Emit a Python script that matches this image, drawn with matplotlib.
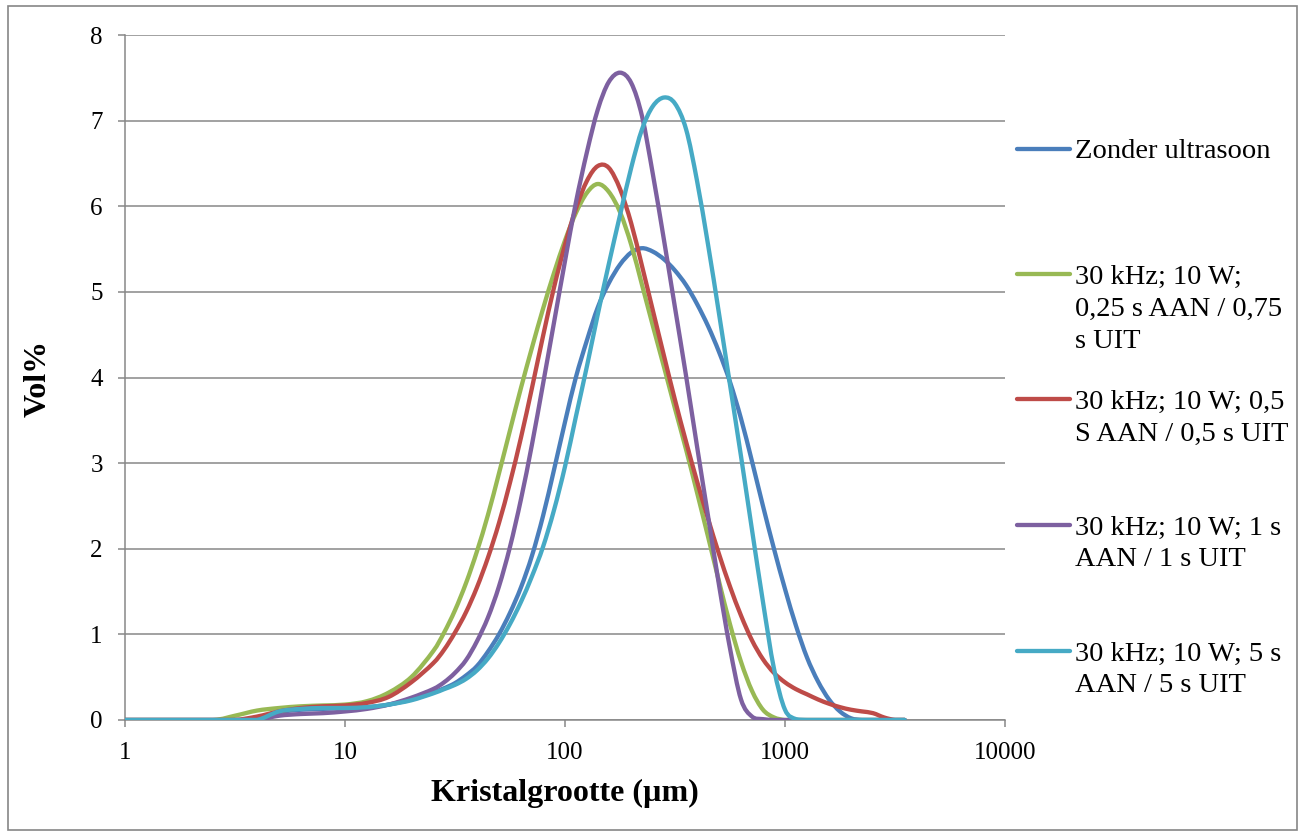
import numpy as np
import matplotlib
matplotlib.use("Agg")
import matplotlib.pyplot as plt
from matplotlib.lines import Line2D
from matplotlib.patches import Rectangle, PathPatch
from matplotlib.path import Path
from matplotlib.ticker import FixedLocator, NullLocator

plt.rcParams['font.family'] = ['Liberation Serif', 'DejaVu Serif']

# crystal size (um), log spaced
sizes = [1, 1.58, 2.51, 3.16, 3.98, 5.01, 6.31, 7.94, 10, 12.6, 15.8, 20.0,
         25.1, 28.2, 31.6, 35.5, 39.8, 44.7, 50.1, 56.2, 63.1, 70.8, 79.4, 89.1,
         100, 112, 126, 141, 158, 178, 200, 224, 251, 282, 316, 355, 398, 447,
         501, 562, 631, 708, 794, 891, 1000, 1122, 1259, 1413, 1585, 1778, 1995,
         2239, 2512, 2818, 3162, 3500]

zonder = [0, 0, 0, 0, 0, 0.09, 0.12, 0.13, 0.14, 0.15, 0.18, 0.24,
          0.32, 0.37, 0.43, 0.52, 0.63, 0.8, 1.0, 1.25, 1.55, 1.92, 2.38, 2.92,
          3.48, 4.0, 4.44, 4.82, 5.1, 5.32, 5.46, 5.51, 5.47, 5.38, 5.25, 5.08, 4.86, 4.6,
          4.3, 3.95, 3.52, 3.02, 2.5, 2.0, 1.53, 1.1, 0.73, 0.45, 0.24, 0.1, 0.02,
          0, 0, 0, 0, 0]

aan025 = [0, 0, 0, 0.05, 0.11, 0.14, 0.16, 0.17, 0.18, 0.22, 0.32, 0.5,
          0.8, 1.02, 1.28, 1.6, 1.97, 2.4, 2.88, 3.38, 3.88, 4.35, 4.8, 5.22,
          5.6, 5.92, 6.16, 6.26, 6.17, 5.93, 5.55, 5.08, 4.6, 4.12, 3.64, 3.16, 2.66, 2.14,
          1.62, 1.12, 0.68, 0.34, 0.12, 0.03, 0, 0, 0, 0, 0, 0, 0,
          0, 0, 0, 0, 0]

aan05 = [0, 0, 0, 0, 0.04, 0.1, 0.14, 0.16, 0.17, 0.2, 0.27, 0.44,
         0.66, 0.82, 1.02, 1.26, 1.55, 1.9, 2.3, 2.77, 3.3, 3.88, 4.48, 5.05,
         5.55, 5.97, 6.3, 6.47, 6.45, 6.2, 5.8, 5.3, 4.78, 4.25, 3.74, 3.25, 2.79, 2.35,
         1.94, 1.56, 1.22, 0.93, 0.71, 0.55, 0.44, 0.36, 0.3, 0.24, 0.19, 0.15, 0.12,
         0.1, 0.08, 0.03, 0, 0]

aan1 = [0, 0, 0, 0, 0, 0.05, 0.07, 0.08, 0.1, 0.13, 0.18, 0.26,
        0.36, 0.44, 0.55, 0.7, 0.92, 1.2, 1.56, 2.02, 2.58, 3.22, 3.92, 4.64,
        5.36, 6.04, 6.64, 7.13, 7.45, 7.56, 7.44, 7.05, 6.37, 5.6, 4.82, 4.02, 3.2, 2.38,
        1.58, 0.84, 0.24, 0.04, 0.01, 0, 0, 0, 0, 0, 0, 0, 0,
        0, 0, 0, 0, 0]

aan5 = [0, 0, 0, 0, 0, 0.1, 0.13, 0.14, 0.14, 0.15, 0.18, 0.23,
        0.31, 0.36, 0.41, 0.48, 0.58, 0.72, 0.9, 1.12, 1.38, 1.68, 2.02, 2.45,
        2.96, 3.54, 4.14, 4.74, 5.32, 5.9, 6.45, 6.9, 7.17, 7.27, 7.2, 6.9, 6.3, 5.55,
        4.75, 3.92, 3.08, 2.22, 1.38, 0.6, 0.12, 0.01, 0, 0, 0, 0, 0,
        0, 0, 0, 0, 0]

series = [zonder, aan025, aan05, aan1, aan5]
labels = ["Zonder ultrasoon",
          "30 kHz; 10 W;\n0,25 s AAN / 0,75\ns UIT",
          "30 kHz; 10 W; 0,5\nS AAN / 0,5 s UIT",
          "30 kHz; 10 W; 1 s\nAAN / 1 s UIT",
          "30 kHz; 10 W; 5 s\nAAN / 5 s UIT"]
colors = ['#4A7EBB', '#98B954', '#BE4B48', '#7D60A0', '#46AAC5']

xticks = [1, 10, 100, 1000, 10000]
xticklabels = ["1", "10", "100", "1000", "10000"]
yticks = [0, 1, 2, 3, 4, 5, 6, 7, 8]


def smooth_path(xs, ys):
    # Excel-style smoothed line: bezier segments through the data points
    u = np.log10(xs)
    y = np.asarray(ys, float)
    n = len(u)
    verts = [(xs[0], y[0])]
    codes = [Path.MOVETO]
    for i in range(n - 1):
        a = max(i - 1, 0)
        b = min(i + 2, n - 1)
        c1u = u[i] + (u[i + 1] - u[a]) / 6
        c1y = y[i] + (y[i + 1] - y[a]) / 6
        c2u = u[i + 1] - (u[b] - u[i]) / 6
        c2y = y[i + 1] - (y[b] - y[i]) / 6
        verts += [(10 ** c1u, max(c1y, 0)), (10 ** c2u, max(c2y, 0)),
                  (xs[i + 1], y[i + 1])]
        codes += [Path.CURVE4] * 3
    return Path(verts, codes)


W, H = 1305, 836
fig = plt.figure(figsize=(W / 100, H / 100), dpi=100)
ax = fig.add_axes([125 / W, 1 - 720 / H, 880 / W, 685 / H])

gray = '#878787'
ax.set_xscale('log')
ax.set_xlim(1, 10000)
ax.set_ylim(0, 8)

for y, c in zip(series, colors):
    ax.add_patch(PathPatch(smooth_path(sizes, y), fill=False, edgecolor=c,
                           lw=3.1, joinstyle='round', capstyle='round', zorder=3))

ax.xaxis.set_major_locator(FixedLocator(xticks))
ax.xaxis.set_minor_locator(NullLocator())
ax.set_xticklabels(xticklabels)
ax.set_yticks(yticks)
ax.yaxis.grid(True, color=gray, lw=1.1)
ax.set_axisbelow(True)
for s in ['top', 'right']:
    ax.spines[s].set_visible(False)
for s in ['left', 'bottom']:
    ax.spines[s].set_color(gray)
    ax.spines[s].set_linewidth(1.1)
ax.tick_params(axis='both', direction='out', length=5, width=1.1, color=gray,
               labelsize=18, pad=11)

fig.text(565 / W, 1 - 793 / H, "Kristalgrootte (µm)", ha='center', va='center',
         fontsize=23, fontweight='bold')
fig.text(38 / W, 1 - 378 / H, "Vol%", ha='center', va='center', rotation=90,
         fontsize=23, fontweight='bold')

# legend drawn by hand so the handle sits on the first text line
handle_y = [149, 274, 399, 525, 651]
for lab, c, hy in zip(labels, colors, handle_y):
    fig.add_artist(Line2D([1017 / W, 1070 / W], [1 - hy / H, 1 - hy / H],
                          color=c, lw=3.1, solid_capstyle='round',
                          transform=fig.transFigure))
    for k, line in enumerate(lab.split("\n")):
        fig.text(1075 / W, 1 - (hy + 9.5 + 32 * k) / H, line, ha='left',
                 va='baseline', fontsize=20.5)

fig.add_artist(Rectangle((8 / W, 6 / H), 1289 / W, 824 / H, fill=False,
                         edgecolor='#868686', lw=1.2, transform=fig.transFigure))

fig.savefig("out.png", dpi=100)
